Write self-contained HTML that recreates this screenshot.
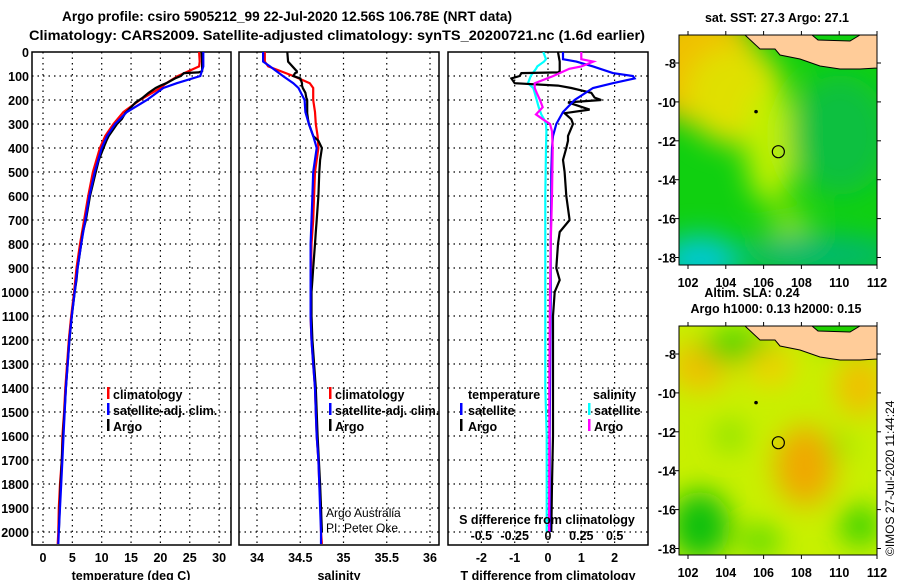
<!DOCTYPE html>
<html><head><meta charset="utf-8"><style>
html,body{margin:0;padding:0;background:#fff;}
svg{display:block;font-family:"Liberation Sans",Arial,sans-serif;}
.b{font-weight:bold;font-size:14px;}
.t{font-weight:bold;font-size:12.5px;}
</style></head><body>
<svg id="c" width="900" height="580" viewBox="0 0 900 580" xmlns="http://www.w3.org/2000/svg">
<defs>
<filter id="bl" x="-50%" y="-50%" width="200%" height="200%"><feGaussianBlur stdDeviation="14"/></filter>
<clipPath id="m1c"><rect x="679" y="35" width="198" height="230"/></clipPath>
<clipPath id="m2c"><rect x="679" y="326" width="198" height="229"/></clipPath>
<clipPath id="p1c"><rect x="32" y="52" width="199" height="493"/></clipPath>
<clipPath id="p2c"><rect x="239" y="52" width="200" height="493"/></clipPath>
<clipPath id="p3c"><rect x="448" y="52" width="200" height="493"/></clipPath>
</defs>
<text class="b" x="62" y="21" textLength="450" lengthAdjust="spacingAndGlyphs">Argo profile: csiro 5905212_99 22-Jul-2020 12.56S 106.78E (NRT data)</text>
<text class="b" x="29" y="40" textLength="616" lengthAdjust="spacingAndGlyphs">Climatology: CARS2009. Satellite-adjusted climatology: synTS_20200721.nc (1.6d earlier)</text>
<g id="g"></g>
</svg>
<script>
// ---------- data ----------
const depthTicks = [0,100,200,300,400,500,600,700,800,900,1000,1100,1200,1300,1400,1500,1600,1700,1800,1900,2000];
const tempTicks = [0,5,10,15,20,25,30];
const salTicks = [34,34.5,35,35.5,36];
const salTickLabels = ["34","34.5","35","35.5","36"];
const tdiffTicks = [-2,-1,0,1,2];
const sdiffTicks = [-0.5,-0.25,0,0.25,0.5];
const sdiffTickLabels = ["-0.5","-0.25","0","0.25","0.5"];

const climDepth = [0,40,60,100,130,150,200,250,300,350,400,500,600,700,800,900,1000,1100,1200,1300,1400,1500,1600,1700,1800,1900,2000,2050];
const tempClim  = [26.6,26.7,26.6,23.0,21.0,20.0,16.5,13.7,12.0,10.6,9.7,8.5,7.7,7.0,6.3,5.7,5.3,4.8,4.4,4.1,3.8,3.6,3.3,3.2,2.9,2.7,2.6,2.5];
const tempSat   = [27.3,27.3,27.3,26.8,22.8,20.5,17.7,14.3,12.3,10.9,10.0,8.8,7.9,7.2,6.5,5.9,5.4,4.9,4.5,4.2,3.9,3.7,3.5,3.3,3.1,2.9,2.7,2.6];
const salClim   = [34.09,34.09,34.13,34.42,34.61,34.65,34.65,34.67,34.68,34.70,34.71,34.67,34.66,34.65,34.63,34.625,34.62,34.62,34.63,34.65,34.67,34.68,34.69,34.71,34.72,34.74,34.74,34.75];
const salSat    = [34.07,34.07,34.15,34.30,34.42,34.48,34.55,34.56,34.60,34.65,34.69,34.65,34.64,34.63,34.62,34.62,34.62,34.62,34.63,34.65,34.67,34.68,34.69,34.71,34.72,34.73,34.74,34.74];

const argoDepth = [0,40,80,85,88,100,110,130,140,150,170,190,200,210,240,255,280,300,350,370,400,450,500,600,700,750,800,900,950,1000,1100,1200,1400,1600,1800,2000];
const tempArgo  = [27.0,27.1,27.1,26.5,24.0,23.5,22.5,21.0,20.0,19.2,18.0,17.0,16.4,15.8,14.6,14.0,13.4,12.6,11.2,10.8,10.3,9.5,9.0,8.0,7.3,6.8,6.5,5.9,5.7,5.4,4.9,4.5,3.9,3.4,3.0,2.7];
const salArgo   = [34.35,34.36,34.46,34.46,34.44,34.42,34.50,34.52,34.52,34.53,34.56,34.57,34.58,34.58,34.58,34.58,34.59,34.60,34.65,34.71,34.75,34.73,34.72,34.71,34.69,34.68,34.67,34.65,34.64,34.63,34.63,34.64,34.68,34.70,34.73,34.75];
const tdiffArgo = [0.3,0.35,0.35,0.3,-0.8,-0.85,-1.1,-1.0,0.3,0.7,1.3,1.4,1.6,0.6,1.25,0.5,0.7,0.75,0.6,0.6,0.55,0.45,0.5,0.55,0.65,0.35,0.3,0.25,0.35,0.2,0.15,0.15,0.15,0.15,0.12,0.1];
const tdiffDepth = [0,30,40,60,88,100,110,130,150,200,250,300,350,400,500,600,800,1000,1200,1400,1600,1800,2000];
const tdiffSat  = [0.45,0.45,0.85,1.35,1.95,2.55,2.6,1.95,1.35,0.8,0.45,0.25,0.15,0.12,0.1,0.1,0.08,0.08,0.07,0.06,0.05,0.05,0.05];
const sdiffDepth = [0,30,40,60,70,100,130,150,170,200,230,260,280,300,330,400,600,800,1000,1400,1600,2000];
const sdiffSat  = [-0.035,-0.015,-0.03,-0.08,-0.09,-0.13,-0.15,-0.11,-0.1,-0.085,-0.07,-0.05,-0.03,-0.015,-0.012,-0.015,-0.02,-0.02,-0.02,-0.02,-0.01,-0.01];
const sdiffArgo = [0.25,0.25,0.34,0.25,0.16,0.04,-0.1,-0.1,-0.085,-0.06,-0.04,-0.09,-0.04,0.015,0.03,0.035,0.03,0.02,0.015,0.01,0.01,0.008];

const lonTicks = [102,104,106,108,110,112];
const latTicks = [-8,-10,-12,-14,-16,-18];
const argoLon = 106.78, argoLat = -12.56;

// ---------- helpers ----------
const NS="http://www.w3.org/2000/svg";
const G=document.getElementById('g');
function mk(tag,attrs,parent){const e=document.createElementNS(NS,tag);for(const k in attrs)e.setAttribute(k,attrs[k]);(parent||G).appendChild(e);return e;}
const yD = d => 52 + d*0.24;
const xT = t => 43 + t*5.87;
const xS = s => 257 + (s-34)*86.5;
const xTD = t => 548 + t*33.3;
const xSD = s => 548 + s*133.3;

function frame(x0,x1,xs,name){
  const g=mk('g',{});
  
  
  depthTicks.forEach(d=>{ if(d>0) mk('line',{x1:x0,x2:x1,y1:yD(d),y2:yD(d),stroke:'#000','stroke-width':1.2,'stroke-dasharray':'1.5,4'},g);});
  xs.forEach(x=>mk('line',{x1:x,x2:x,y1:52,y2:545,stroke:'#000','stroke-width':1.2,'stroke-dasharray':'1.5,4'},g));
  mk('rect',{x:x0,y:52,width:x1-x0,height:493,fill:'none',stroke:'#000','stroke-width':1.5},g);
  return g;
}
function line(depths,vals,xf,color,clip,name,w){
  const pts=depths.map((d,i)=>xf(vals[i]).toFixed(1)+','+yD(d).toFixed(1)).join(' ');
  const p=mk('polyline',{points:pts,fill:'none',stroke:color,'stroke-width':w||2.2,'clip-path':'url(#'+clip+')'});
  
  
}
function txt(x,y,s,cls,anchor,name,fill){
  const t=mk('text',{x:x,y:y,'class':cls,'text-anchor':anchor||'start',fill:fill||'#000'});
  t.textContent=s;
  
  
  return t;
}
function legMark(x,y,color){mk('rect',{x:x,y:y-11,width:2.5,height:12,fill:color});}

depthTicks.forEach(d=>{
  txt(29,yD(d)+5,String(d),'t','end','depth-tick-label');
});

// panel 1
frame(32,231,tempTicks.map(xT),'temperature-panel');
line(climDepth,tempClim,xT,'#f00','p1c','temp-climatology-line');
line(argoDepth,tempArgo,xT,'#000','p1c','temp-argo-line');
line(climDepth,tempSat,xT,'#00f','p1c','temp-satellite-line');
tempTicks.forEach(v=>txt(xT(v),562,String(v),'t','middle','temp-tick-label'));
txt(131,580,'temperature (deg C)','t','middle','temperature-axis-title');
legMark(107,398,'#f00'); txt(113,399,'climatology','t','start','legend-climatology');
legMark(107,414,'#00f'); txt(113,415,'satellite-adj. clim.','t','start','legend-satellite-adj');
legMark(107,430,'#000'); txt(113,431,'Argo','t','start','legend-argo');

// panel 2
frame(239,439,salTicks.map(xS),'salinity-panel');
line(climDepth,salClim,xS,'#f00','p2c','sal-climatology-line');
line(argoDepth,salArgo,xS,'#000','p2c','sal-argo-line');
line(climDepth,salSat,xS,'#00f','p2c','sal-satellite-line');
salTicks.forEach((v,i)=>txt(xS(v),562,salTickLabels[i],'t','middle','sal-tick-label'));
txt(339,580,'salinity','t','middle','salinity-axis-title');
legMark(329,398,'#f00'); txt(335,399,'climatology','t','start','legend2-climatology');
legMark(329,414,'#00f'); txt(335,415,'satellite-adj. clim.','t','start','legend2-satellite-adj');
legMark(329,430,'#000'); txt(335,431,'Argo','t','start','legend2-argo');
txt(326,517,'Argo Australia','','start','credit-line-1').setAttribute('font-size','12');
txt(326,532,'PI: Peter Oke','','start','credit-line-2').setAttribute('font-size','12');

// panel 3
frame(448,648,tdiffTicks.map(xTD),'difference-panel');
line(sdiffDepth,sdiffSat,xSD,'#0ff','p3c','sdiff-satellite-line');
line(argoDepth,tdiffArgo,xTD,'#000','p3c','tdiff-argo-line');
line(tdiffDepth,tdiffSat,xTD,'#00f','p3c','tdiff-satellite-line');
line(sdiffDepth,sdiffArgo,xSD,'#f0f','p3c','sdiff-argo-line');
tdiffTicks.forEach(v=>txt(xTD(v),562,String(v),'t','middle','tdiff-tick-label'));
sdiffTicks.forEach((v,i)=>txt(xSD(v),540,sdiffTickLabels[i],'t','middle','sdiff-tick-label'));
txt(547,524,'S difference from climatology','t','middle','sdiff-axis-title');
txt(548,580,'T difference from climatology','t','middle','tdiff-axis-title');
txt(468,399,'temperature','t','start','legend3-temperature');
legMark(460,414,'#00f'); txt(468,415,'satellite','t','start','legend3-t-satellite');
legMark(460,430,'#000'); txt(468,431,'Argo','t','start','legend3-t-argo');
txt(593,399,'salinity','t','start','legend3-salinity');
legMark(588,414,'#0ff'); txt(594,415,'satellite','t','start','legend3-s-satellite');
legMark(588,430,'#f0f'); txt(594,431,'Argo','t','start','legend3-s-argo');

// ---------- maps ----------
function map(top,h,blobs,clip,name){
  const x0=679,x1=877;
  const lx = lon => 688 + (lon-102)*18.9;
  const ly = lat => top + 28 + (-8-lat)*19.45;
  const g=mk('g',{'clip-path':'url(#'+clip+')'});
  
  
  mk('rect',{x:x0,y:top,width:198,height:h,fill:blobs.base},g);
  const bg=mk('g',{filter:'url(#bl)'},g);
  blobs.items.forEach(b=>mk('ellipse',{cx:b[0],cy:top+b[1],rx:b[2],ry:b[3],fill:b[4]},bg));
  const land=`M745,${top} L760,${top+14} L775,${top+14} L780,${top+20} L800,${top+24} L820,${top+31} L840,${top+34} L860,${top+34} L877,${top+33} L877,${top} Z`;
  mk('path',{d:land,fill:'#ffcc99',stroke:'#000','stroke-width':1},g);
  mk('path',{d:`M812,${top} L818,${top+5} L850,${top+6} L860,${top}`,fill:blobs.island,stroke:'#000','stroke-width':1},g);
  mk('rect',{x:x0,y:top,width:198,height:h,fill:'none',stroke:'#000','stroke-width':1},G);
  const c=mk('circle',{cx:lx(argoLon),cy:ly(argoLat),r:6,fill:'none',stroke:'#000','stroke-width':1.2});
  
  
  mk('circle',{cx:lx(105.6),cy:ly(-10.5),r:1.8,fill:'#000'});
  lonTicks.forEach(l=>{mk('line',{x1:lx(l),x2:lx(l),y1:top-4,y2:top,stroke:'#000'});mk('line',{x1:lx(l),x2:lx(l),y1:top+h,y2:top+h+4,stroke:'#000'});});
  latTicks.forEach(l=>{mk('line',{x1:x0-4,x2:x0,y1:ly(l),y2:ly(l),stroke:'#000'});mk('line',{x1:x1,x2:x1+4,y1:ly(l),y2:ly(l),stroke:'#000'});
    txt(676,ly(l)+5,String(l),'t','end','lat-tick-label');});
  return lx;
}
const lx1=map(35,230,{base:'#10d010',island:'#10d010',items:[[700,30,60,60,'#f0c000'],[735,60,50,50,'#e0e000'],[770,110,25,60,'#c0f000'],[790,200,20,30,'#80e000'],[700,225,40,25,'#00c8d0'],[820,220,80,20,'#00b870'],[840,100,50,60,'#10c040']]},'m1c','sst-map');
lonTicks.forEach(l=>txt(lx1(l),287,String(l),'t','middle','lon-tick-label'));
txt(777,22,'sat. SST: 27.3 Argo: 27.1','t','middle','sst-map-title');
txt(752,297,'Altim. SLA: 0.24','t','middle','sla-map-title');
txt(776,313,'Argo h1000: 0.13 h2000: 0.15','t','middle','argo-height-title');
const lx2=map(326,229,{base:'#c8f000',island:'#20d000',items:[[700,40,30,25,'#f0c000'],[740,20,40,15,'#20d000'],[860,10,20,10,'#20d000'],[830,10,25,12,'#80e000'],[805,140,30,40,'#f0a800'],[770,40,25,20,'#f0d000'],[860,60,25,30,'#f0c000'],[700,200,30,35,'#10c010'],[760,215,20,15,'#50d800'],[860,200,20,20,'#30d000'],[730,110,15,15,'#80e000'],[840,120,10,12,'#80e000']]},'m2c','sla-map');
lonTicks.forEach(l=>txt(lx2(l),577,String(l),'t','middle','lon-tick-label'));
const r=txt(0,0,'©IMOS 27-Jul-2020 11:44:24','','start','timestamp');
r.setAttribute('font-size','12');
r.setAttribute('transform','translate(894,556) rotate(-90)');
</script>
</body></html>
